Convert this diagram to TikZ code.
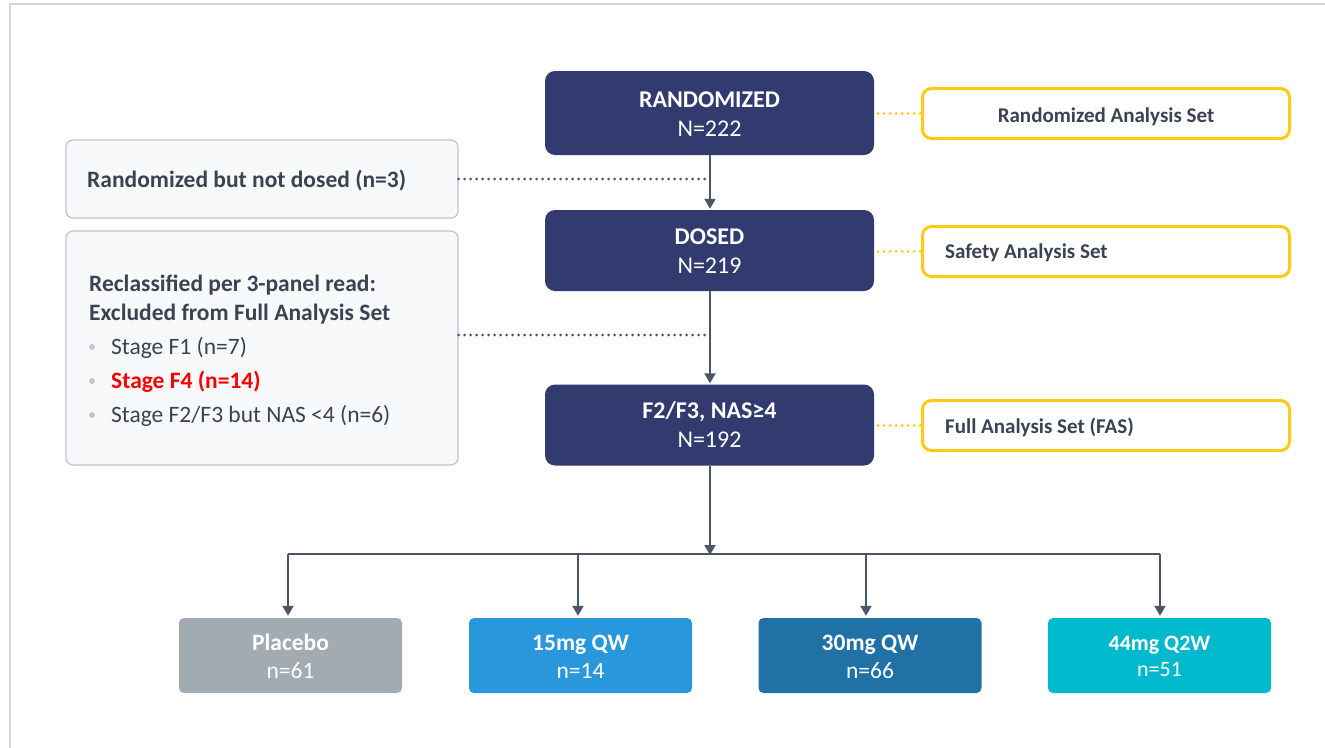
\documentclass[tikz,border=0pt]{standalone}
\usepackage{fontspec}
\setmainfont{Carlito}
\usetikzlibrary{arrows.meta}
\definecolor{navy}{HTML}{313B6F}
\definecolor{txtdark}{HTML}{3B4352}
\definecolor{conncol}{HTML}{4A5568}
\definecolor{gold}{HTML}{FFC914}
\definecolor{boxgray}{HTML}{F8F9FA}
\definecolor{boxedge}{HTML}{BAC4D6}
\definecolor{framecol}{HTML}{D3D7DD}
\definecolor{placebo}{HTML}{A2ABB1}
\definecolor{dosea}{HTML}{2997DC}
\definecolor{doseb}{HTML}{1F71A6}
\definecolor{dosec}{HTML}{00B9CD}
\definecolor{bulletcol}{HTML}{C3C7CC}
\definecolor{redtxt}{HTML}{FF0000}
\tikzset{
  mainbox/.style={fill=navy, draw=none, rounded corners=10pt, minimum width=329pt, inner sep=0pt},
  leftbox/.style={fill=boxgray, draw=boxedge, line width=1.2pt, rounded corners=7pt, minimum width=392pt, inner sep=0pt},
  setbox/.style={fill=white, draw=gold, line width=3pt, rounded corners=9pt, minimum width=367pt, minimum height=50pt, inner sep=0pt},
  armbox/.style={draw=none, rounded corners=5pt, minimum width=223pt, minimum height=75pt, inner sep=0pt},
  conn/.style={draw=conncol, line width=2pt},
  tip/.style={-{Triangle[length=10pt,width=11pt]}},
  graydots/.style={draw=conncol, line width=3pt, line cap=round, dash pattern=on 0pt off 6pt},
  golddots/.style={draw=gold, line width=3pt, line cap=round, dash pattern=on 0pt off 6pt},
  whitebold/.style={text=white, font=\fontsize{24}{28}\selectfont\bfseries, anchor=base, inner sep=0pt},
  whitereg/.style={text=white, font=\fontsize{24}{28}\selectfont, anchor=base, inner sep=0pt},
  armbold/.style={text=white, font=\fontsize{23.5}{28}\selectfont\bfseries, anchor=base, inner sep=0pt},
  armreg/.style={text=white, font=\fontsize{23.5}{28}\selectfont, anchor=base, inner sep=0pt},
  darkbold/.style={text=txtdark, font=\fontsize{23.5}{28}\selectfont\bfseries, anchor=base west, inner sep=0pt},
  setlabel/.style={text=txtdark, font=\fontsize{21}{25}\selectfont\bfseries, anchor=base, inner sep=0pt},
  bullettxt/.style={text=txtdark, font=\fontsize{23.5}{28}\selectfont, anchor=base west, inner sep=0pt},
  bulletdot/.style={circle, fill=bulletcol, draw=none, minimum size=6pt, inner sep=0pt},
}
\begin{document}
\begin{tikzpicture}[x=1pt,y=-1pt]
\useasboundingbox (0,0) rectangle (1325,747);
\fill[white] (0,0) rectangle (1325,747);
% outer frame
\draw[framecol, line width=1.5pt] (10,800) -- (10,4) -- (1400,4);

% main flow boxes
\node[mainbox, minimum height=84pt] (rand) at (709.5,113) {};
\node[mainbox, minimum height=81pt] (dosed) at (709.5,250.5) {};
\node[mainbox, minimum height=81pt] (fas) at (709.5,425) {};
\node[whitebold] (randT) at (709.5,107) {RANDOMIZED};
\node[whitereg] (randN) at (709.5,136) {N=222};
\node[whitebold] (dosedT) at (709.5,244) {DOSED};
\node[whitereg] (dosedN) at (709.5,273) {N=219};
\node[whitebold] (fasT) at (709.5,418) {F2/F3, NAS≥4};
\node[whitereg] (fasN) at (709.5,447) {N=192};

% left boxes
\node[leftbox, minimum height=78pt] (lb1) at (262,179) {};
\node[darkbold] (lb1T) at (87,187) {Randomized but not dosed (n=3)};
\node[leftbox, minimum height=234pt] (lb2) at (262,348) {};
\node[darkbold] (lb2a) at (89,291) {Reclassified per 3-panel read:};
\node[darkbold] (lb2b) at (89,320) {Excluded from Full Analysis Set};
\node[bulletdot] (b1) at (92,347) {};
\node[bulletdot] (b2) at (92,381) {};
\node[bulletdot] (b3) at (92,415) {};
\node[bullettxt] (s1) at (111,354) {Stage F1 (n=7)};
\node[bullettxt, text=redtxt, font=\fontsize{23.5}{28}\selectfont\bfseries] (s2) at (111,388) {Stage F4 (n=14)};
\node[bullettxt] (s3) at (111,422) {Stage F2/F3 but NAS <4 (n=6)};

% right analysis-set boxes
\node[setbox] (ra) at (1106,113.5) {};
\node[setbox] (rb) at (1106,251.5) {};
\node[setbox] (rc) at (1106,425.5) {};
\node[setlabel] (raT) at (1106,122) {Randomized Analysis Set};
\node[setlabel, anchor=base west] (rbT) at (945,258) {Safety Analysis Set};
\node[setlabel, anchor=base west] (rcT) at (945,433) {Full Analysis Set (FAS)};

% arm boxes
\node[armbox, fill=placebo] (arm1) at (290.5,655.5) {};
\node[armbox, fill=dosea] (arm2) at (580.5,655.5) {};
\node[armbox, fill=doseb] (arm3) at (870,655.5) {};
\node[armbox, fill=dosec] (arm4) at (1159.5,655.5) {};
\node[armbold] (a1T) at (290.5,650) {Placebo};
\node[armreg] (a1N) at (290.5,678) {n=61};
\node[armbold] (a2T) at (580.5,650) {15mg QW};
\node[armreg] (a2N) at (580.5,678) {n=14};
\node[armbold] (a3T) at (870,650) {30mg QW};
\node[armreg] (a3N) at (870,678) {n=66};
\node[armbold, font=\fontsize{22}{26}\selectfont\bfseries] (a4T) at (1159.5,650) {44mg Q2W};
\node[armreg, font=\fontsize{22}{26}\selectfont] (a4N) at (1159.5,676) {n=51};

% connectors
\coordinate (j1) at (710,179);
\coordinate (j2) at (710,335);
\coordinate (split) at (710,554);
\coordinate (h1) at (288,554);
\coordinate (h2) at (578,554);
\coordinate (h3) at (866,554);
\coordinate (h4) at (1160,554);

\draw[graydots] (lb1.east) -- (j1);
\draw[graydots] (lb2.east |- j2) -- (j2);
\draw[conn, tip, shorten >=1pt] (rand.south -| j1) -- (dosed.north -| j1);
\draw[conn, tip, shorten >=1pt] (dosed.south -| j1) -- (fas.north -| j1);
\draw[conn, tip] (fas.south -| split) -- ([yshift=-1pt]split);
\draw[conn] (h1) -- (h4);
\draw[conn, tip, shorten >=2pt] (h1) -- (h1 |- arm1.north);
\draw[conn, tip, shorten >=2pt] (h2) -- (h2 |- arm2.north);
\draw[conn, tip, shorten >=2pt] (h3) -- (h3 |- arm3.north);
\draw[conn, tip, shorten >=2pt] (h4) -- (h4 |- arm4.north);

\draw[golddots] ([xshift=4pt]rand.east |- ra.west) -- (ra.west);
\draw[golddots] ([xshift=4pt]dosed.east |- rb.west) -- (rb.west);
\draw[golddots] ([xshift=4pt]fas.east |- rc.west) -- (rc.west);
\end{tikzpicture}
\end{document}
